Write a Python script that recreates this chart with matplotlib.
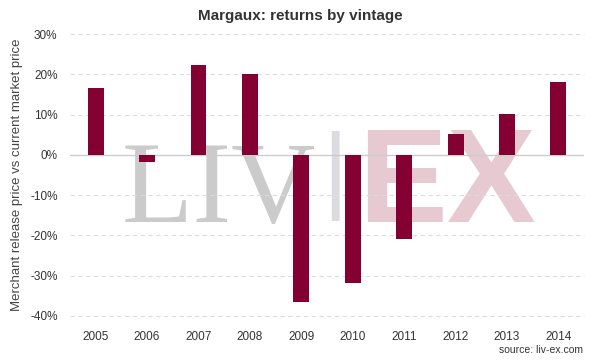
import matplotlib.pyplot as plt
from matplotlib.ticker import FuncFormatter

# vintages and returns (%)
vintages = ['2005', '2006', '2007', '2008', '2009', '2010', '2011', '2012', '2013', '2014']
returns = [16.6, -1.8, 22.4, 20.1, -36.5, -31.9, -20.8, 5.2, 10.2, 18.0]
yticks = [-40, -30, -20, -10, 0, 10, 20, 30]

plt.rcParams['font.family'] = ['Liberation Sans', 'DejaVu Sans']

fig = plt.figure(figsize=(6, 3.6), dpi=100)
ax = fig.add_axes([0.1167, 0.123, 0.8567, 0.782])

# watermark behind the bars
ax.text(0.10, 0.333, 'LIV', transform=ax.transAxes, fontsize=84,
        family='Liberation Serif', color='#cbcbcb', va='baseline', ha='left', zorder=0)
ax.text(0.516, 0.495, '|', transform=ax.transAxes, fontsize=70,
        color='#dcdce0', va='center', ha='center', zorder=0)
ax.text(0.56, 0.333, 'EX', transform=ax.transAxes, fontsize=96, weight='bold',
        color='#e7c9d2', va='baseline', ha='left', zorder=0)

x = range(len(vintages))
ax.bar(x, returns, width=0.31, color='#850032', zorder=3)

ax.set_xlim(-0.5, len(vintages) - 0.5)
ax.set_ylim(-40, 30)
ax.set_yticks(yticks)
ax.yaxis.set_major_formatter(FuncFormatter(lambda v, p: '{:.0f}%'.format(v)))
ax.set_xticks(list(x))
ax.set_xticklabels(vintages)

for v in yticks:
    if v == 0:
        ax.axhline(v, color='#cccccc', lw=1, zorder=1)
    else:
        ax.axhline(v, color='#dddddd', lw=0.8, ls=(0, (4, 3)), zorder=1, clip_on=False)

for s in ax.spines.values():
    s.set_visible(False)
ax.tick_params(length=0, labelsize=8.5, labelcolor='#333333')
ax.tick_params(axis='y', pad=9)
ax.tick_params(axis='x', pad=11)

ax.set_ylabel('Merchant release price vs current market price', fontsize=9.5,
              color='#444444', labelpad=5)
fig.text(0.5, 0.955, 'Margaux: returns by vintage', ha='center', va='center',
         fontsize=11, weight='bold', color='#333333')
fig.text(0.972, 0.015, 'source: liv-ex.com', ha='right', va='bottom',
         fontsize=7.5, color='#333333')

fig.savefig('out.png', dpi=100)
